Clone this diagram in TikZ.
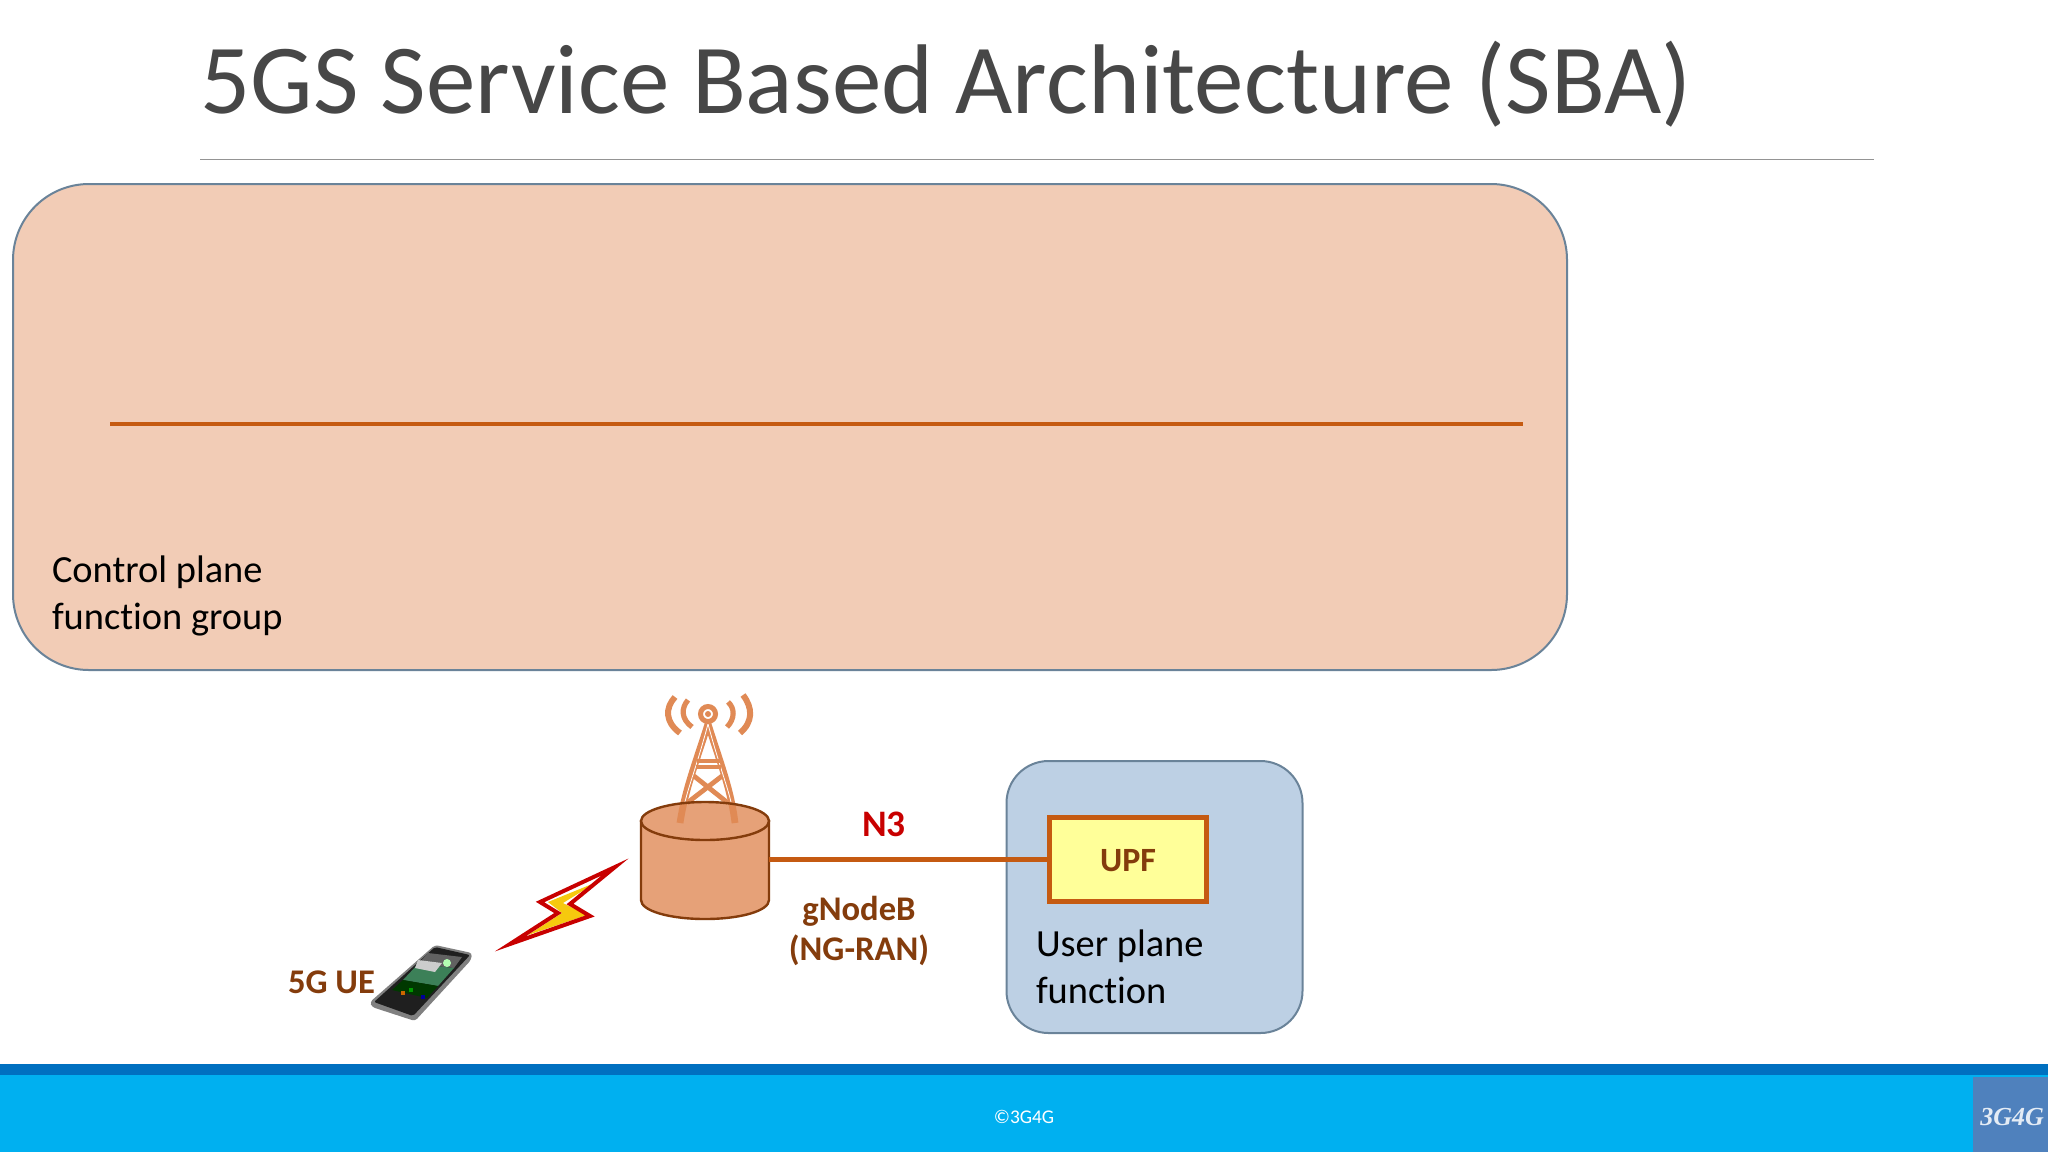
\documentclass[tikz,border=0pt]{standalone}
\usepackage{fontspec}
\setmainfont{Carlito}[Ligatures={NoCommon}]
\newfontfamily\logofont{Liberation Serif}

\definecolor{boxpeach}{HTML}{F2CCB6}
\definecolor{boxblue}{HTML}{BDD0E4}
\definecolor{boxedge}{HTML}{6A8399}
\definecolor{linkorange}{HTML}{C55A11}
\definecolor{darkbrown}{HTML}{843C0C}
\definecolor{cylfill}{HTML}{E6A178}
\definecolor{towerorange}{HTML}{E08A55}
\definecolor{boltred}{HTML}{C80000}
\definecolor{boltyellow}{HTML}{F6C90E}
\definecolor{upfyellow}{HTML}{FFFF99}
\definecolor{footdark}{HTML}{0070C0}
\definecolor{footlight}{HTML}{00B0F0}
\definecolor{logoblue}{HTML}{4F81BD}
\definecolor{phonegreen}{HTML}{3C8058}

\tikzset{
  group/.style={draw=boxedge, line width=1pt, inner sep=0pt, outer sep=0pt},
  plain/.style={anchor=base west, inner sep=0pt, outer sep=0pt, align=left,
    font=\fontsize{19.2}{23.5}\selectfont},
  brownlabel/.style={inner sep=0pt, outer sep=0pt, text=darkbrown,
    font=\bfseries\fontsize{17.3}{20}\selectfont},
  link/.style={draw=linkorange, line width=2.1pt},
  tower/.style={draw=towerorange, line width=2.4pt, line cap=butt},
}

\begin{document}
\begin{tikzpicture}[x=0.5pt,y=-0.5pt]
  \useasboundingbox (0,0) rectangle (2048,1152);
  \fill[white] (0,0) rectangle (2048,1152);

  % Title and rule
  \node[anchor=base west, inner sep=0pt, text=black!72, font=\fontsize{49.5}{56}\selectfont] (title) at (200,113) {5GS Service Based Architecture (SBA)};
  \coordinate (ruleA) at (200,159);
  \coordinate (ruleB) at (1874,159);
  \draw[black!42, line width=0.5pt] (ruleA) -- (ruleB);

  % Control plane group
  \node[group, fill=boxpeach, rounded corners=38pt, minimum width=777pt, minimum height=243pt] (cpgroup) at (790,427) {};
  \coordinate (busA) at (110,424);
  \coordinate (busB) at (1523,424);
  \draw[link, line width=2.4pt] (busA) -- (busB);
  \node[plain] (cplabel) at (52,629) {Control plane\\function group};

  % User plane group
  \node[group, fill=boxblue, rounded corners=21pt, minimum width=148pt, minimum height=136pt] (upgroup) at (1154.5,897) {};
  \node[draw=linkorange, line width=2.5pt, fill=upfyellow, minimum width=78.5pt, minimum height=42pt, inner sep=0pt, text=darkbrown, font=\bfseries\fontsize{17}{20}\selectfont] (upf) at (1128,859.5) {\raisebox{0pt}[12pt][0pt]{UPF}};
  \node[plain] (uplabel) at (1036,1003) {User plane\\function};

  % gNodeB cylinder
  \node[minimum width=64pt, minimum height=58.5pt, inner sep=0pt, outer sep=0pt] (gnb) at (705,859.5) {};
  \draw[draw=darkbrown, line width=1.2pt, fill=cylfill] (641,821) -- (641,900) .. controls (641,911) and (670,919) .. (705,919) .. controls (740,919) and (769,911) .. (769,900) -- (769,821) -- cycle;
  \fill[cylfill] (705,821) ellipse (64 and 19);
  \draw[link] (gnb.east) -- (upf.west);

  % Tower
  \draw[tower, line width=3.4pt] (708,724) .. controls (695,765) and (685,790) .. (680,823);
  \draw[tower, line width=3.4pt] (708,724) .. controls (721,765) and (731,790) .. (735,823);
  \draw[white, line width=0.4pt] (708,724) .. controls (697,765) and (689,785) .. (685,802);
  \draw[white, line width=0.4pt] (708,724) .. controls (719,765) and (727,785) .. (731,802);
  \draw[tower] (697,761) -- (720,761);
  \draw[tower] (696,767) -- (721,767);
  \draw[tower] (694,776) -- (728,803);
  \draw[tower] (722,776) -- (687,803);
  \draw[tower, line width=2.5pt, fill=white] (708,714) circle (7.5);
  \fill[towerorange] (708,714) circle (1.5pt);
  \draw[tower, line width=2.6pt] (688,700) .. controls (681,708) and (681,719) .. (692,727);
  \draw[tower, line width=2.6pt] (728,702) .. controls (735,708) and (735,719) .. (727,727);
  \draw[tower, line width=3pt] (675,697) .. controls (665,708) and (665,722) .. (680,733);
  \draw[tower, line width=3pt] (743,695) .. controls (753,708) and (753,722) .. (740,733);
  \draw[draw=darkbrown, line width=1.2pt] (705,821) ellipse (64 and 19);

  \node[inner sep=0pt, text=boltred, font=\bfseries\fontsize{18.7}{20}\selectfont, anchor=base] (n3) at (884,836) {N3};
  \node[brownlabel, align=center, anchor=base] (gnblabel) at (859,960) {gNodeB\\(NG-RAN)};
  \node[brownlabel, anchor=base west] (uelabel) at (288,993) {5G UE};

  % Lightning bolt
  \fill[white] (615,867) -- (540,902) -- (558,913) -- (510,944) -- (590,916) -- (570,904) -- cycle;
  \fill[boltyellow] (597,882) -- (548,902) -- (562,913) -- (528,935) -- (587,915) -- (563,903) -- cycle;
  \draw[draw=boltred, line width=2pt, miter limit=10] (615,867) -- (540,902) -- (558,913) -- (510,944) -- (590,916) -- (570,904) -- cycle;

  % Phone
  \fill[black!50, rounded corners=1.5pt] (435,945) -- (472,953) -- (471,960) -- (415,1021) -- (372,1007) -- (370,1002) -- cycle;
  \fill[black!88, rounded corners=1pt] (435,947) -- (470,955) -- (413,1016) -- (374,1002) -- cycle;
  \fill[black!62] (428,953) -- (462,957) -- (454,968) -- (418,964) -- cycle;
  \fill[phonegreen] (418,964) -- (454,968) -- (438,986) -- (403,980) -- cycle;
  \fill[black!78!green] (403,980) -- (438,986) -- (427,998) -- (392,990) -- cycle;
  \fill[white!80!black] (418,960) -- (442,963) -- (435,972) -- (415,968) -- cycle;
  \fill[white!70!green] (447,963) circle (2pt);
  \fill[orange!80!black] (401,991) rectangle (405,995);
  \fill[green!60!black] (409,988) rectangle (413,992);
  \fill[blue!60!black] (421,995) rectangle (425,999);

  % Footer
  \fill[footlight] (0,1072) rectangle (2048,1152);
  \fill[footdark] (0,1064) rectangle (2048,1075);
  \fill[logoblue] (1973,1077) rectangle (2048,1152);
  \node[inner sep=0pt, text=white, font=\fontsize{9.7}{12}\selectfont] (copy) at (1024,1117) {©3G4G};
  \node[inner sep=0pt, text=white!85!logoblue, font=\logofont\itshape\bfseries\fontsize{13}{15}\selectfont] (logo) at (2012,1117) {3G4G};
\end{tikzpicture}
\end{document}
